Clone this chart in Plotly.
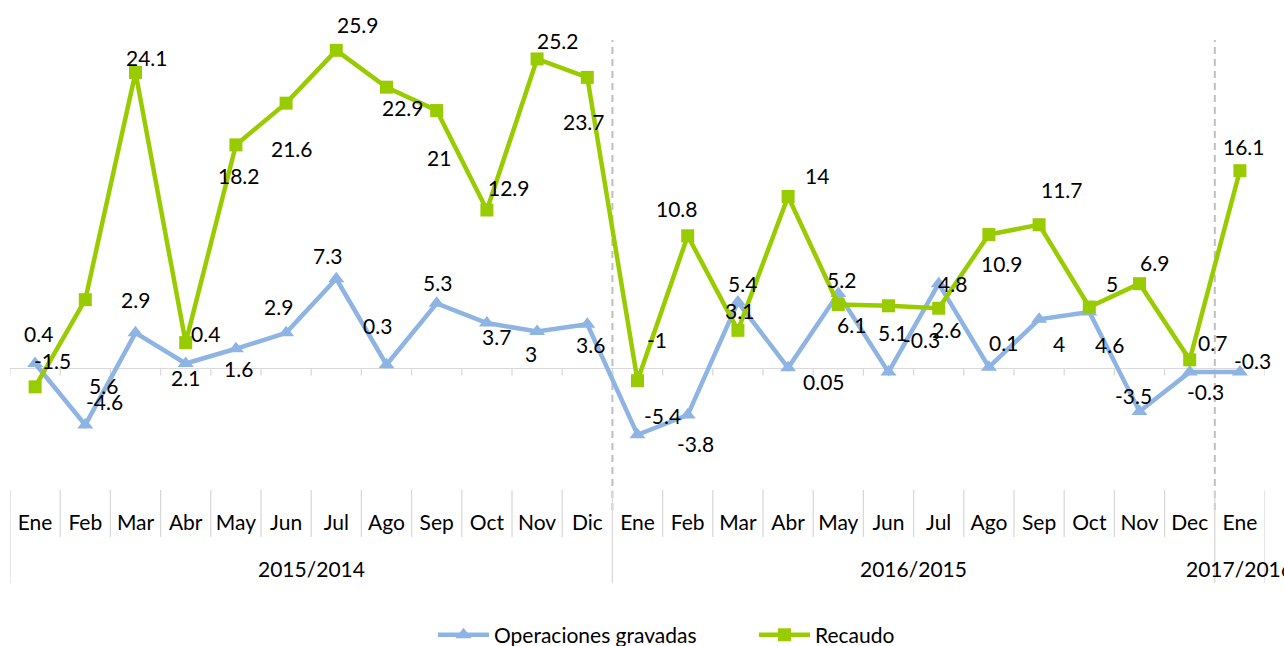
import plotly.graph_objects as go

# ---------------- data ----------------
months = ["Ene", "Feb", "Mar", "Abr", "May", "Jun", "Jul", "Ago", "Sep", "Oct", "Nov", "Dic",
          "Ene", "Feb", "Mar", "Abr", "May", "Jun", "Jul", "Ago", "Sep", "Oct", "Nov", "Dec",
          "Ene"]
periods = ["2015/2014", "2016/2015", "2017/2016"]
period_sizes = [12, 12, 1]

operaciones = [0.4, -4.6, 2.9, 0.4, 1.6, 2.9, 7.3, 0.3, 5.3, 3.7, 3.0, 3.6,
               -5.4, -3.8, 5.4, 0.05, 6.1, -0.3, 6.9, 0.1, 4.0, 4.6, -3.5, -0.3,
               -0.3]
recaudo = [-1.5, 5.6, 24.1, 2.1, 18.2, 21.6, 25.9, 22.9, 21.0, 12.9, 25.2, 23.7,
           -1.0, 10.8, 3.1, 14.0, 5.2, 5.1, 4.9, 10.9, 11.7, 5.0, 6.9, 0.7,
           16.1]
operaciones_labels = ["0.4", "-4.6", "2.9", "0.4", "1.6", "2.9", "7.3", "0.3", "5.3", "3.7", "3", "3.6",
                      "-5.4", "-3.8", "5.4", "0.05", "6.1", "-0.3", "2.6", "0.1", "4", "4.6", "-3.5", "-0.3",
                      "-0.3"]
recaudo_labels = ["-1.5", "5.6", "24.1", "2.1", "18.2", "21.6", "25.9", "22.9", "21", "12.9", "25.2", "23.7",
                  "-1", "10.8", "3.1", "14", "5.2", "5.1", "4.8", "10.9", "11.7", "5", "6.9", "0.7",
                  "16.1"]

# ---------------- label placement (style: pixel offsets dx, dy-down) ----------------
op_offsets = [(3, -30), (19, -23), (0, -33), (20, -30), (3, 20), (-8, -26), (-9, -23), (-9, -39),
              (1, -21), (10, 14), (-6, 22), (3, 20),
              (25, -19), (8, 28), (5, -19), (36, 14), (13, 31), (33, -33), (8, 46), (15, -25),
              (20, 24), (20, 33), (-6, -16), (16, 19), (13, -12)]
rec_offsets = [(17, -26), (18, 86), (11, -15), (0, 35), (3, 31), (6, 45), (22, -26), (16, 20),
               (2, 47), (22, -23), (21, -18), (-3, 44),
               (19, -41), (-11, -27), (2, -20), (29, -21), (3, -25), (4, 27), (14, -25), (13, 29),
               (23, -35), (23, -24), (15, -21), (23, -17), (4, -24)]

# ---------------- style ----------------
FONT = "Lato"
BLUE = "#8EB4E3"
GREEN = "#99CC00"
GRID = "#D9D9D9"
DASH = "#BFBFBF"
W, H = 1284, 646
ML, MR, MT, MB = 10, 19, 0, 156
YMIN, YMAX = -9.9, 30.0
plot_h = H - MT - MB

x = list(range(len(months)))

fig = go.Figure()
fig.add_trace(go.Scatter(
    x=x, y=operaciones, name="Operaciones gravadas", mode="lines+markers",
    line=dict(color=BLUE, width=4.5),
    marker=dict(symbol="triangle-up", size=14, color=BLUE),
    cliponaxis=False,
))
fig.add_trace(go.Scatter(
    x=x, y=recaudo, name="Recaudo", mode="lines+markers",
    line=dict(color=GREEN, width=4.5),
    marker=dict(symbol="square", size=13, color=GREEN),
    cliponaxis=False,
))

annotations = []
for xi, v, t, (dx, dy) in zip(x, operaciones, operaciones_labels, op_offsets):
    annotations.append(dict(x=xi, y=v, xref="x", yref="y", text=t, showarrow=False,
                            xshift=dx, yshift=-dy, font=dict(family=FONT, size=21, color="#000000")))
for xi, v, t, (dx, dy) in zip(x, recaudo, recaudo_labels, rec_offsets):
    annotations.append(dict(x=xi, y=v, xref="x", yref="y", text=t, showarrow=False,
                            xshift=dx, yshift=-dy, font=dict(family=FONT, size=21, color="#000000")))

# period labels and separators
shapes = []
start = 0
period_bounds = [-0.5]
for name, size in zip(periods, period_sizes):
    center = start + (size - 1) / 2
    annotations.append(dict(x=center, y=-78 / plot_h, xref="x", yref="paper", text=name,
                            showarrow=False, yanchor="middle",
                            font=dict(family=FONT, size=21, color="#000000")))
    start += size
    period_bounds.append(start - 0.5)

n = len(months)
tick_px = 7
units_per_px = (YMAX - YMIN) / plot_h
for k in range(n + 1):
    b = k - 0.5
    # small tick marks on the zero line
    shapes.append(dict(type="line", xref="x", yref="y", x0=b, x1=b, y0=0, y1=-tick_px * units_per_px,
                       line=dict(color=GRID, width=1.3), layer="below"))
    # category table separators
    depth = 93 if b in period_bounds else 47
    shapes.append(dict(type="line", xref="x", yref="paper", x0=b, x1=b, y0=0, y1=-depth / plot_h,
                       line=dict(color=GRID, width=1.3)))

# dashed period dividers
for b in period_bounds[1:-1]:
    shapes.append(dict(type="line", xref="x", yref="paper", x0=b, x1=b,
                       y0=-20 / plot_h, y1=(plot_h - 40) / plot_h,
                       line=dict(color=DASH, width=2, dash="7px,5px"), layer="below"))

fig.update_layout(
    width=W, height=H, autosize=False,
    margin=dict(l=ML, r=MR, t=MT, b=MB, pad=0, autoexpand=False),
    paper_bgcolor="white", plot_bgcolor="white",
    font=dict(family=FONT, size=21, color="#000000"),
    showlegend=True,
    legend=dict(orientation="h", x=(433 - ML) / (W - ML - MR), xanchor="left",
                yref="container", y=(H - 635) / H, yanchor="middle",
                font=dict(family=FONT, size=21, color="#000000"),
                itemwidth=51, entrywidth=255, entrywidthmode="pixels",
                bgcolor="rgba(0,0,0,0)"),
    xaxis=dict(range=[-0.5, n - 0.5], tickmode="array", tickvals=x, ticktext=months,
               ticks="", showline=False, showgrid=False, zeroline=False, automargin=False,
               ticklabelstandoff=18, tickfont=dict(family=FONT, size=21, color="#000000"),
               fixedrange=True),
    yaxis=dict(range=[YMIN, YMAX], showticklabels=False, showgrid=False, ticks="",
               showline=False, zeroline=True, zerolinecolor=GRID, zerolinewidth=1.3,
               automargin=False, fixedrange=True),
    annotations=annotations,
    shapes=shapes,
    hovermode=False,
)

fig.write_html("out.html", post_script="document.body.style.margin='0';",
               config={"displayModeBar": False})
